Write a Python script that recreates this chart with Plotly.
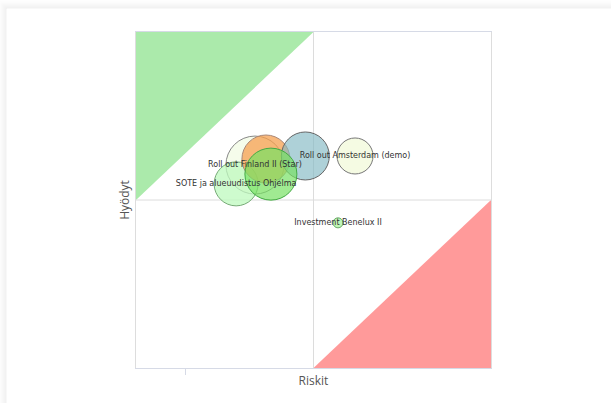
import plotly.graph_objects as go

# ---- data ----
riskit = [3.35, 2.82, 3.66, 4.77, 3.80, 6.17, 5.69]
hyodyt = [6.04, 5.48, 6.22, 6.31, 5.77, 6.31, 4.32]
sizes = [58, 44, 48, 48, 52, 36, 10]
fills = ["rgba(243,251,232,0.85)", "rgba(190,250,190,0.75)", "rgba(245,160,80,0.75)",
         "rgba(130,185,195,0.65)", "rgba(120,225,100,0.7)", "rgba(244,251,224,0.9)",
         "rgba(185,245,175,0.9)"]
outlines = ["#888", "#7a7", "#a87", "#666", "#4a4", "#777", "#6a6"]
# label text positions (labels drawn on the bubble they belong to)
lab_text = ["Roll out Finland II (Star)", "SOTE ja alueuudistus Ohjelma", "Roll out Amsterdam (demo)", "Investment Benelux II"]
lab_x = [3.35, 2.82, 6.17, 5.69]
lab_y = [6.04, 5.48, 6.31, 4.32]

X_MIN, X_MAX, Y_MIN, Y_MAX = 0, 10, 0, 10
MID_X, MID_Y = 5, 5
x_ticks = [1.4]

fig = go.Figure()
for i in range(len(riskit)):
    fig.add_trace(go.Scatter(
        x=[riskit[i]], y=[hyodyt[i]], mode="markers",
        marker=dict(size=sizes[i], color=fills[i], line=dict(color=outlines[i], width=1)),
        hoverinfo="skip", showlegend=False, cliponaxis=False))
fig.add_trace(go.Scatter(
    x=lab_x, y=lab_y, mode="text", text=lab_text, textposition="middle center",
    textfont=dict(family="DejaVu Sans", size=8, color="#333"), showlegend=False, hoverinfo="skip"))

shapes = []
# card shadow
def px2x(p):
    return (p - 136) / 355.0
def py2y(p):
    return (368 - p) / 336.0
for k, a in enumerate([0.06, 0.05, 0.04, 0.032, 0.025, 0.018, 0.012, 0.008, 0.004]):
    off = k + 1
    shapes.append(dict(type="rect", xref="paper", yref="paper", layer="below",
                       x0=px2x(7 - off), x1=px2x(640), y0=py2y(420), y1=py2y(9 - off),
                       line=dict(color=f"rgba(0,0,0,{a})", width=1), fillcolor="rgba(0,0,0,0)"))
# quadrant triangles
shapes.append(dict(type="path", xref="x", yref="y", layer="below",
                   path=f"M {X_MIN},{Y_MAX} L {MID_X},{Y_MAX} L {X_MIN},{MID_Y} Z",
                   fillcolor="#abeaab", line=dict(width=0)))
shapes.append(dict(type="path", xref="x", yref="y", layer="below",
                   path=f"M {MID_X},{Y_MIN} L {X_MAX},{MID_Y} L {X_MAX},{Y_MIN} Z",
                   fillcolor="#ff9a9a", line=dict(width=0)))
# mid lines
shapes.append(dict(type="line", xref="x", yref="y", layer="below", x0=MID_X, x1=MID_X, y0=Y_MIN, y1=Y_MAX,
                   line=dict(color="#dcdcdc", width=1)))
shapes.append(dict(type="line", xref="x", yref="y", layer="below", x0=X_MIN, x1=X_MAX, y0=MID_Y, y1=MID_Y,
                   line=dict(color="#dcdcdc", width=1)))

fig.update_layout(
    width=611, height=403,
    margin=dict(l=136, r=120, t=32, b=35),
    paper_bgcolor="white", plot_bgcolor="white",
    shapes=shapes,
    xaxis=dict(range=[X_MIN, X_MAX], showgrid=False, zeroline=False, showline=True, mirror=True,
               linecolor="#d6dae6", linewidth=1, tickvals=x_ticks, ticktext=[""], ticks="outside",
               ticklen=6, tickcolor="#d6dae6",
               title=dict(text="Riskit", font=dict(family="Open Sans", size=12, color="#555"), standoff=0)),
    yaxis=dict(range=[Y_MIN, Y_MAX], showgrid=False, zeroline=False, showline=True, mirror=True,
               linecolor="#dddddd", linewidth=1, showticklabels=False, ticks="",
               title=dict(text="Hyödyt", font=dict(family="Open Sans", size=12, color="#555"), standoff=2)),
)
fig.write_html("out.html")
